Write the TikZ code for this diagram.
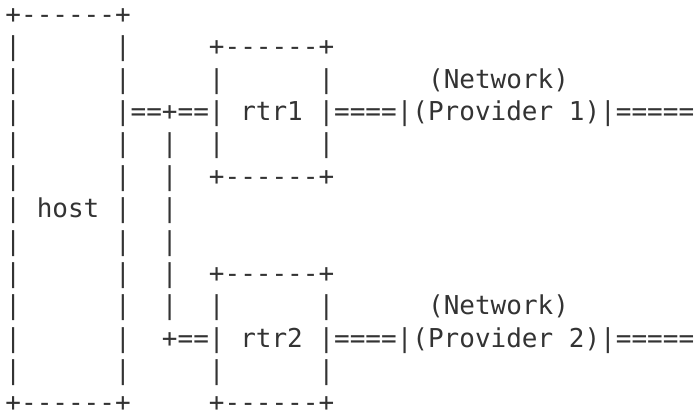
\documentclass[tikz,border=0pt]{standalone}
\usepackage{fontspec}
\setmonofont{DejaVu Sans Mono}
\usepackage{xcolor}
\usepackage{tikz}
\definecolor{inkgray}{HTML}{333333}
\tikzset{row/.style={anchor=base west,inner sep=0pt,text=inkgray,
  font=\ttfamily\fontsize{19.5pt}{24pt}\selectfont}}

\begin{document}
\begin{tikzpicture}[x=1pt,y=1pt]
  \useasboundingbox (0,0) rectangle (520.5,-309.5);

  % Host, rtr1 and Provider 1
  \node[row] (r1)  at (3.9,-17.5)    {+------+};
  \node[row] (r2)  at (3.9,-41.79)   {|~~~~~~|~~~~~+------+};
  \node[row] (r3)  at (3.9,-66.08)   {|~~~~~~|~~~~~|~~~~~~|~~~~~~(Network)};
  \node[row] (r4)  at (3.9,-90.375)  {|~~~~~~|==+==|~rtr1~|====|(Provider~1)|=====};
  \node[row] (r5)  at (3.9,-114.67)  {|~~~~~~|~~|~~|~~~~~~|};
  \node[row] (r6)  at (3.9,-138.96)  {|~~~~~~|~~|~~+------+};
  \node[row] (r7)  at (3.9,-163.25)  {|~host~|~~|};

  % rtr2 and Provider 2
  \node[row] (r8)  at (3.9,-187.54)  {|~~~~~~|~~|};
  \node[row] (r9)  at (3.9,-211.83)  {|~~~~~~|~~|~~+------+};
  \node[row] (r10) at (3.9,-236.125) {|~~~~~~|~~|~~|~~~~~~|~~~~~~(Network)};
  \node[row] (r11) at (3.9,-260.42)  {|~~~~~~|~~+==|~rtr2~|====|(Provider~2)|=====};
  \node[row] (r12) at (3.9,-284.71)  {|~~~~~~|~~~~~|~~~~~~|};
  \node[row] (r13) at (3.9,-309)     {+------+~~~~~+------+};
\end{tikzpicture}
\end{document}
